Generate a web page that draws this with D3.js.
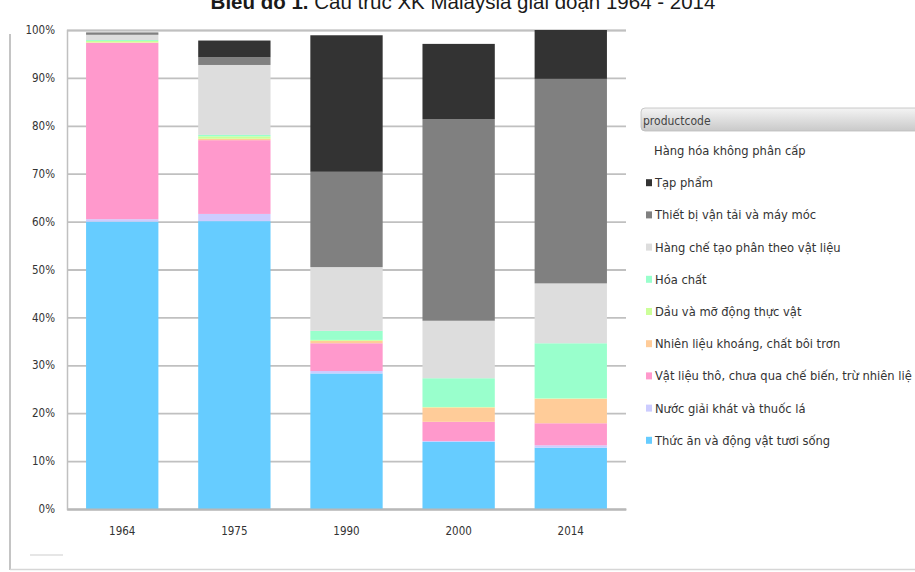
<!DOCTYPE html>
<html>
<head>
<meta charset="utf-8">
<script src="https://cdn.jsdelivr.net/npm/d3@7"></script>
<style>
  html, body { margin: 0; padding: 0; background: #fff; }
  svg { display: block; }
</style>
</head>
<body>
<svg id="chart" width="915" height="572"></svg>
<script>
// Export structure of Malaysia by product group (share of total, %)
const years = ["1964", "1975", "1990", "2000", "2014"];

// Product groups, bottom of the stack first
const groups = [
  "Thức ăn và động vật tươi sống",
  "Nước giải khát và thuốc lá",
  "Vật liệu thô, chưa qua chế biến, trừ nhiên liệu",
  "Nhiên liệu khoáng, chất bôi trơn",
  "Dầu và mỡ động thực vật",
  "Hóa chất",
  "Hàng chế tạo phân theo vật liệu",
  "Thiết bị vận tải và máy móc",
  "Tạp phẩm",
  "Hàng hóa không phân cấp"
];

const groupColors = [
  "#66ccff", "#ccccff", "#ff99cc", "#ffcc99", "#ccff99",
  "#99ffcc", "#dddddd", "#808080", "#333333", "#ffffff"
];

// Share (%) of each group, one value per year
const food          = [60.0, 60.1, 28.3, 14.0, 12.8];
const beverages     = [ 0.5,  1.5,  0.5,  0.2,  0.5];
const rawMaterials  = [36.8, 15.4,  5.8,  4.0,  4.6];
const mineralFuels  = [ 0.1,  0.3,  0.5,  3.0,  5.1];
const oilsFats      = [ 0.3,  0.5,  0.2,  0.1,  0.1];
const chemicals     = [ 0.2,  0.3,  1.9,  6.0, 11.5];
const manufactured  = [ 1.1, 14.6, 13.3, 12.0, 12.5];
const machinery     = [ 0.5,  1.6, 19.9, 42.1, 42.7];
const miscellaneous = [ 0.0,  3.5, 28.5, 15.7, 10.2];
const unclassified  = [ 0.0,  0.0,  0.0,  0.0,  0.0];

const seriesValues = [food, beverages, rawMaterials, mineralFuels, oilsFats,
  chemicals, manufactured, machinery, miscellaneous, unclassified];

const yTicks = [0, 10, 20, 30, 40, 50, 60, 70, 80, 90, 100];

const titleBold = "Biểu đồ 1.";
const titleRest = " Cấu trúc XK Malaysia giai đoạn 1964 - 2014";
const legendTitle = "productcode";

// Build rows for d3.stack
const rows = years.map((yr, i) => {
  const r = { year: yr };
  groups.forEach((g, k) => { r[g] = seriesValues[k][i]; });
  return r;
});

const svg = d3.select("#chart");
const plot = { left: 67, right: 626, top: 30, bottom: 509 };
const axisFont = "'DejaVu Sans Condensed', 'DejaVu Sans', sans-serif";

const x = d3.scaleBand()
  .domain(years)
  .range([plot.left, plot.right])
  .paddingInner(0.355)
  .paddingOuter(0.17);

const y = d3.scaleLinear()
  .domain([0, 100])
  .range([plot.bottom, plot.top]);

const color = d3.scaleOrdinal().domain(groups).range(groupColors);

// Outer frame lines
svg.append("line")
  .attr("x1", 10).attr("x2", 10).attr("y1", 34).attr("y2", 570)
  .attr("stroke", "#c4c4c4").attr("stroke-width", 2);
svg.append("line")
  .attr("x1", 10).attr("x2", 915).attr("y1", 569.5).attr("y2", 569.5)
  .attr("stroke", "#d6d6d6").attr("stroke-width", 1.5);
svg.append("line")
  .attr("x1", 30).attr("x2", 63).attr("y1", 555).attr("y2", 555)
  .attr("stroke", "#dedede").attr("stroke-width", 1.5);

// Title (runs off the top edge of the page)
const title = svg.append("text")
  .attr("x", 463).attr("y", 9)
  .attr("text-anchor", "middle")
  .attr("font-family", "'Liberation Sans', Arial, sans-serif")
  .attr("font-size", 20.5)
  .attr("fill", "#1a1a1a");
title.append("tspan").attr("font-weight", "bold").text(titleBold);
title.append("tspan").text(titleRest);

// Grid lines through the y axis
const yAxis = d3.axisLeft(y)
  .tickValues(yTicks)
  .tickSize(-(plot.right - plot.left))
  .tickPadding(12)
  .tickFormat(d => d + "%");

const gy = svg.append("g")
  .attr("transform", `translate(${plot.left},0)`)
  .call(yAxis);
gy.select(".domain").attr("stroke", "#c0c0c0").attr("stroke-width", 1.5);
gy.selectAll(".tick line").attr("stroke", "#c0c0c0").attr("stroke-width", 1.8);
gy.selectAll(".tick text")
  .attr("font-family", axisFont)
  .attr("font-size", 11.5)
  .attr("fill", "#333");

// Stacked bars
const stack = d3.stack().keys(groups);
const layers = stack(rows);

svg.append("g")
  .selectAll("g")
  .data(layers)
  .join("g")
  .attr("fill", d => color(d.key))
  .selectAll("rect")
  .data(d => d)
  .join("rect")
  .attr("x", d => x(d.data.year))
  .attr("width", x.bandwidth())
  .attr("y", d => y(d[1]))
  .attr("height", d => Math.max(0, y(d[0]) - y(d[1])));

// X axis
const xAxis = d3.axisBottom(x).tickSize(0).tickPadding(18);
const gx = svg.append("g")
  .attr("transform", `translate(0,${plot.bottom})`)
  .call(xAxis);
gx.select(".domain").attr("stroke", "#b8b8b8").attr("stroke-width", 1.8);
gx.selectAll(".tick text")
  .attr("font-family", axisFont)
  .attr("font-size", 11.5)
  .attr("fill", "#333");

// Legend
const legend = svg.append("g");
const defs = svg.append("defs");
const grad = defs.append("linearGradient")
  .attr("id", "legendHead").attr("x1", 0).attr("x2", 0).attr("y1", 0).attr("y2", 1);
grad.append("stop").attr("offset", "0%").attr("stop-color", "#f4f4f4");
grad.append("stop").attr("offset", "100%").attr("stop-color", "#c9c9c9");
defs.append("clipPath").attr("id", "legendClip")
  .append("rect").attr("x", 630).attr("y", 100).attr("width", 282).attr("height", 380);

legend.append("rect")
  .attr("x", 641).attr("y", 108).attr("width", 290).attr("height", 23)
  .attr("rx", 4)
  .attr("fill", "url(#legendHead)")
  .attr("stroke", "#bdbdbd").attr("stroke-width", 0.8);
legend.append("text")
  .attr("x", 643).attr("y", 125)
  .attr("font-family", axisFont)
  .attr("font-size", 12)
  .attr("fill", "#444")
  .text(legendTitle);

const legendGroups = groups.slice().reverse();
const items = legend.append("g").attr("clip-path", "url(#legendClip)")
  .selectAll("g")
  .data(legendGroups)
  .join("g")
  .attr("transform", (d, i) => `translate(0,${151 + i * 32.2})`);

items.filter(d => d !== "Hàng hóa không phân cấp")
  .append("rect")
  .attr("x", 646).attr("y", -4).attr("width", 6).attr("height", 7)
  .attr("fill", d => color(d));

items.append("text")
  .attr("x", d => d === "Hàng hóa không phân cấp" ? 654 : 655)
  .attr("y", 4)
  .attr("font-family", axisFont)
  .attr("font-size", 12.8)
  .attr("fill", "#333")
  .text(d => d);
</script>
</body>
</html>
